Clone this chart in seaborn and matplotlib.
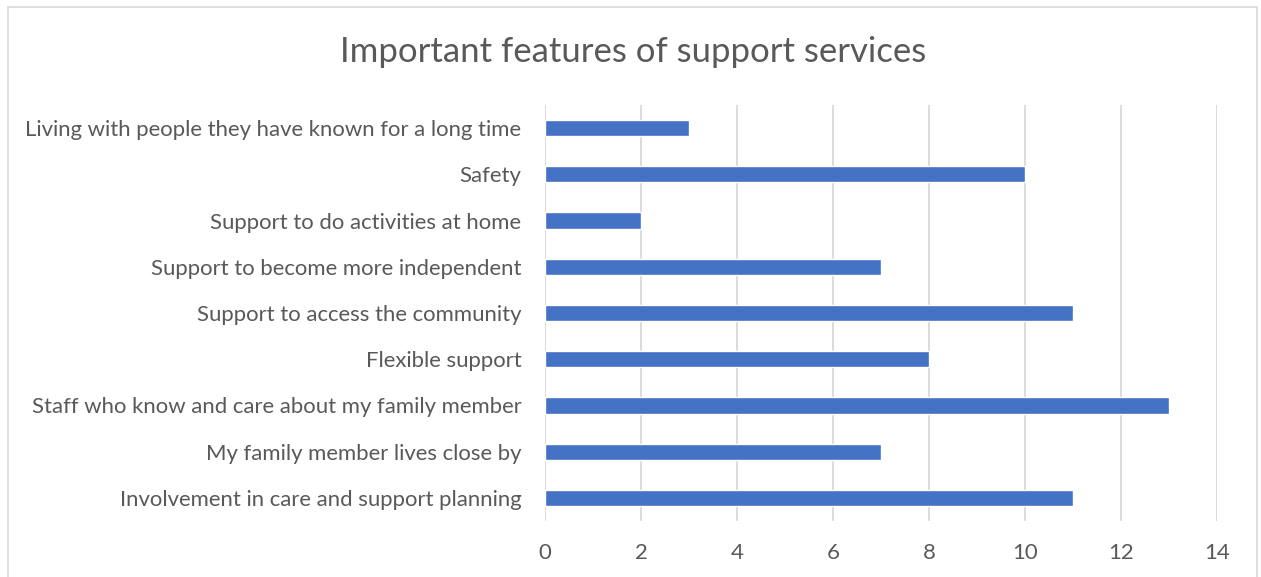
import matplotlib
matplotlib.use("Agg")
import matplotlib.pyplot as plt
import matplotlib.patches as mpatches
import seaborn as sns
import pandas as pd

features = [
    "Living with people they have known for a long time",
    "Safety",
    "Support to do activities at home",
    "Support to become more independent",
    "Support to access the community",
    "Flexible support",
    "Staff who know and care about my family member",
    "My family member lives close by",
    "Involvement in care and support planning",
]
counts = [3, 10, 2, 7, 11, 8, 13, 7, 11]
x_ticks = [0, 2, 4, 6, 8, 10, 12, 14]

df = pd.DataFrame({"feature": features, "count": counts})

sns.set_theme(style="white")
plt.rcParams["font.family"] = ["Lato", "DejaVu Sans"]

W, H = 1261, 577
fig = plt.figure(figsize=(W / 100, H / 100), dpi=100)
ax = fig.add_axes([545 / W, 1 - 521 / H, (1217 - 545) / W, (521 - 105) / H])

sns.barplot(data=df, x="count", y="feature", color="#4472C4", width=0.35,
            saturation=1, ax=ax, zorder=3)

ax.set_xlim(0, 14)
ax.set_ylim(8.5, -0.5)
ax.set_xticks(x_ticks)
ax.set_xticklabels([str(v) for v in x_ticks])
ax.xaxis.grid(True, color="#D9D9D9", linewidth=1.3, zorder=0)
ax.yaxis.grid(False)
ax.set_axisbelow(True)
for s in ax.spines.values():
    s.set_visible(False)
ax.set_xlabel("")
ax.set_ylabel("")
ax.tick_params(axis="both", length=0, colors="#595959", labelsize=15.9)
ax.tick_params(axis="y", pad=17)
ax.tick_params(axis="x", pad=16)

fig.text(633 / W, 1 - 52 / H, "Important features of support services",
         ha="center", va="center", fontsize=25, color="#595959")

fig.patches.append(mpatches.Rectangle((7.5 / W, -0.1), (1257 - 7.5) / W, 1.1 - 7.5 / H,
                                      transform=fig.transFigure, fill=False,
                                      edgecolor="#D9D9D9", linewidth=1.2))

fig.savefig("out.png", dpi=100)
